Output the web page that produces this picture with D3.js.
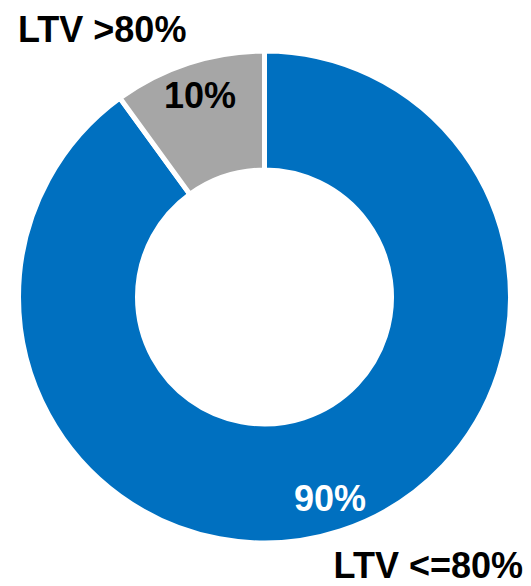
<!DOCTYPE html>
<html>
<head>
<meta charset="utf-8">
<script src="https://cdn.jsdelivr.net/npm/d3@7"></script>
<style>
html,body{margin:0;padding:0;background:#fff;}
svg{display:block;}
text{font-family:"Liberation Sans",Arial,sans-serif;font-weight:bold;}
</style>
</head>
<body>
<svg id="chart" width="531" height="586"></svg>
<script>
const categories = ["LTV <=80%", "LTV >80%"];
const values = [90, 10];
const valueLabels = ["90%", "10%"];
const colors = ["#0070C0", "#A6A6A6"];
const labelColors = ["#FFFFFF", "#000000"];

const svg = d3.select("#chart");
const cx = 264.5, cy = 297, R = 246, r = 127;

const pie = d3.pie().sort(null).value(d => d.v);
const data = categories.map((c, i) => ({c, v: values[i], i}));
const arcs = pie(data);
const arc = d3.arc().innerRadius(r).outerRadius(R);

const g = svg.append("g").attr("transform", `translate(${cx},${cy})`);
g.selectAll("path").data(arcs).enter().append("path")
  .attr("d", arc)
  .attr("fill", d => colors[d.data.i])
  .attr("stroke", "#fff")
  .attr("stroke-width", 5);

// value labels inside slices
const valuePos = [[330, 511], [200, 108]];
svg.selectAll("text.val").data(arcs).enter().append("text")
  .attr("class", "val")
  .attr("x", d => valuePos[d.data.i][0])
  .attr("y", d => valuePos[d.data.i][1])
  .attr("text-anchor", "middle")
  .attr("font-size", 36)
  .attr("fill", d => labelColors[d.data.i])
  .text(d => valueLabels[d.data.i]);

// category labels
const catPos = [[523, 578, "end"], [18, 42, "start"]];
svg.selectAll("text.cat").data(categories).enter().append("text")
  .attr("class", "cat")
  .attr("x", (d, i) => catPos[i][0])
  .attr("y", (d, i) => catPos[i][1])
  .attr("text-anchor", (d, i) => catPos[i][2])
  .attr("font-size", 36)
  .attr("fill", "#000")
  .text(d => d);
</script>
</body>
</html>
